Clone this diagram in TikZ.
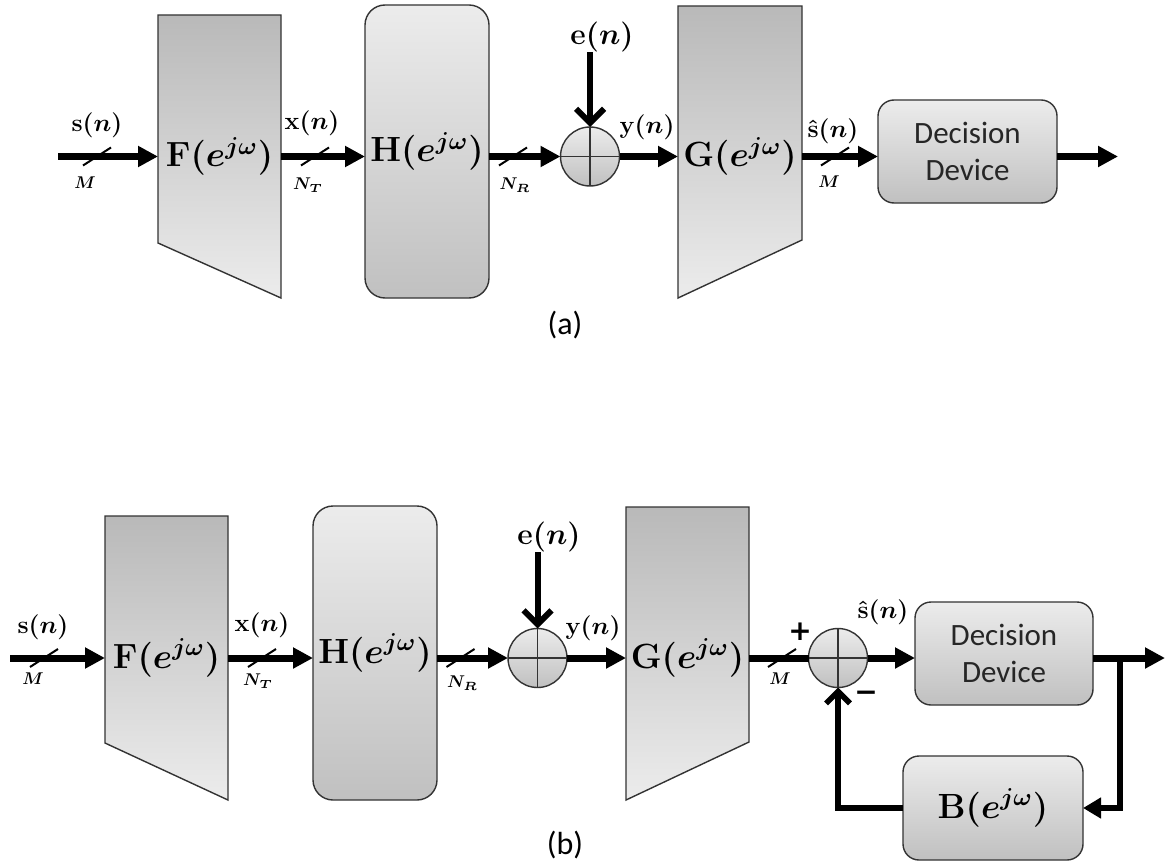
\RequirePackage{fix-cm}
\documentclass[tikz,border=0pt]{standalone}
\usepackage{amsmath,bm}
\usepackage[no-math]{fontspec}
\newfontfamily\ddfont{Carlito}
\newfontfamily\signfont{DejaVu Sans}
\usetikzlibrary{arrows.meta,calc}

\definecolor{edge}{gray}{0.2}
\definecolor{shdark}{HTML}{B9B9B9}
\definecolor{shlight}{HTML}{ECECEC}
\definecolor{boxdark}{HTML}{C0C0C0}

\tikzset{
  x=0.5pt, y=-0.5pt,
  blockfont/.style={font=\fontsize{17.5}{21}\selectfont\boldmath},
  holder/.style={inner sep=0pt, outer sep=0pt},
  trapfill/.style={draw=edge, line width=0.7pt, top color=shdark, bottom color=shlight},
  roundbox/.style={draw=edge, line width=0.7pt, rounded corners=#1,
                   top color=shlight, bottom color=boxdark, inner sep=0pt, outer sep=0pt},
  sumnode/.style={circle, draw=edge, line width=0.7pt, minimum size=29.5pt, inner sep=0pt,
                  outer sep=0pt, top color=shlight, bottom color=boxdark},
  cross/.style={draw=edge, line width=0.6pt},
  sig/.style={line width=3.5pt, -{Triangle[length=10pt,width=10pt]}},
  varrow/.style={line width=3pt, -{Straight Barb[length=7pt,width=14pt]}},
  fbup/.style={line width=2.8pt, -{Straight Barb[length=6pt,width=12pt]}},
  fbleft/.style={line width=2.8pt, -{Triangle[length=9pt,width=10pt]}},
  slash/.style={line width=1pt},
  siglbl/.style={font=\fontsize{12.5}{15}\selectfont\boldmath, inner sep=0pt},
  dimlbl/.style={font=\fontsize{8.5}{10}\selectfont\boldmath, inner sep=0pt},
  elbl/.style={font=\fontsize{15}{18}\selectfont\boldmath, inner sep=0pt},
  ddtext/.style={font=\ddfont\fontsize{15.5}{18.5}\selectfont, text=black!85, align=center},
  signlbl/.style={font=\signfont\bfseries\fontsize{14}{16}\selectfont, inner sep=0pt},
  caplbl/.style={font=\ddfont\fontsize{16}{19}\selectfont, inner sep=0pt},
}

\begin{document}
\begin{tikzpicture}
\useasboundingbox (0,0) rectangle (1170,861);
\fill[white] (0,0) rectangle (1170,861);

% ---------------- (a) open-loop chain ----------------
\node[holder, minimum width=61.5pt, minimum height=141.5pt] (Fa) at (219.5,156.5) {};
\path[trapfill] (Fa.north west) -- (Fa.north east) -- (Fa.south east)
  -- ([yshift=27.5pt]Fa.south west) -- cycle;
\node[blockfont] (Fa-t) at (Fa) {$\mathbf{F}(e^{j\omega})$};

\node[roundbox=10pt, minimum width=62pt, minimum height=146.5pt, blockfont]
  (Ha) at (427,151.5) {$\mathbf{H}(e^{j\omega})$};

\node[sumnode] (suma) at (590,156.5) {};
\draw[cross] (suma.north) -- (suma.south) (suma.west) -- (suma.east);

\node[holder, minimum width=62pt, minimum height=146pt] (Ga) at (740,152) {};
\path[trapfill] (Ga.north west) -- (Ga.north east) -- ([yshift=29pt]Ga.south east)
  -- (Ga.south west) -- cycle;
\node[blockfont] (Ga-t) at (740,156.5) {$\mathbf{G}(e^{j\omega})$};

\node[roundbox=8pt, minimum width=89.5pt, minimum height=51.5pt, ddtext]
  (DDa) at (967.5,151.5) {Decision\\Device};

\coordinate (inA) at (58,156.5);
\coordinate (outA) at (1118,156.5);
\draw[sig] (inA) -- (Fa.west);
\draw[sig] (Fa.east) -- (Fa.east -| Ha.west);
\draw[sig] (suma -| Ha.east) -- (suma.west);
\draw[sig] (suma.east) -- (suma -| Ga.west);
\draw[sig] (suma -| Ga.east) -- (suma -| DDa.west);
\draw[sig] (suma -| DDa.east) -- (outA);

\node[elbl] (eA) at (602,37) {$\mathbf{e}(n)$};
\draw[varrow] (suma |- eA.south) -- (suma.north);

\draw[slash] (97,156.5) ++(-14,9) -- ++(28,-18);
\draw[slash] (315,156.5) ++(-14,9) -- ++(28,-18);
\draw[slash] (513,156.5) ++(-14,9) -- ++(28,-18);
\draw[slash] (835,156.5) ++(-14,9) -- ++(28,-18);

\node[siglbl] (sA) at (97,125) {$\mathbf{s}(n)$};
\node[dimlbl] (MA1) at (85,183) {$\bm{M}$};
\node[siglbl] (xA) at (312,123) {$\mathbf{x}(n)$};
\node[dimlbl] (NTA) at (308,185) {$\bm{N_T}$};
\node[dimlbl] (NRA) at (515,185) {$\bm{N_R}$};
\node[siglbl] (yA) at (647,127) {$\mathbf{y}(n)$};
\node[siglbl] (shA) at (833,131) {$\hat{\mathbf{s}}(n)$};
\node[dimlbl] (MA2) at (829,182) {$\bm{M}$};

\node[caplbl] (capA) at (565,325) {(a)};

% ---------------- (b) chain with decision feedback ----------------
\node[holder, minimum width=61.5pt, minimum height=142pt] (Fb) at (166.5,658) {};
\path[trapfill] (Fb.north west) -- (Fb.north east) -- (Fb.south east)
  -- ([yshift=28.5pt]Fb.south west) -- cycle;
\node[blockfont] (Fb-t) at (Fb) {$\mathbf{F}(e^{j\omega})$};

\node[roundbox=10pt, minimum width=62pt, minimum height=147pt, blockfont]
  (Hb) at (375,653) {$\mathbf{H}(e^{j\omega})$};

\node[sumnode] (sumb1) at (537.5,658) {};
\draw[cross] (sumb1.north) -- (sumb1.south) (sumb1.west) -- (sumb1.east);

\node[holder, minimum width=61.5pt, minimum height=146.5pt] (Gb) at (687.5,653.5) {};
\path[trapfill] (Gb.north west) -- (Gb.north east) -- ([yshift=29pt]Gb.south east)
  -- (Gb.south west) -- cycle;
\node[blockfont] (Gb-t) at (687.5,658) {$\mathbf{G}(e^{j\omega})$};

\node[sumnode] (sumb2) at (838,658) {};
\draw[cross] (sumb2.north) -- (sumb2.south) (sumb2.west) -- (sumb2.east);

\node[roundbox=8pt, minimum width=89pt, minimum height=51.5pt, ddtext]
  (DDb) at (1004,653.5) {Decision\\Device};

\node[roundbox=8pt, minimum width=90pt, minimum height=52pt, blockfont]
  (Bb) at (993,808) {$\mathbf{B}(e^{j\omega})$};

\coordinate (inB) at (10,658);
\coordinate (outB) at (1165,658);
\coordinate (brB) at (1123,658);
\draw[sig] (inB) -- (Fb.west);
\draw[sig] (Fb.east) -- (Fb.east -| Hb.west);
\draw[sig] (sumb1 -| Hb.east) -- (sumb1.west);
\draw[sig] (sumb1.east) -- (sumb1 -| Gb.west);
\draw[line width=3.5pt] (sumb1 -| Gb.east) -- (sumb2.west);
\draw[sig] (sumb2.east) -- (sumb2 -| DDb.west);
\draw[sig] (sumb2 -| DDb.east) -- (outB);
\draw[fbleft] ([xshift=-1.4pt]brB) |- (Bb.east);
\draw[fbup] (Bb.west) -| (sumb2.south);

\node[elbl] (eB) at (549,537) {$\mathbf{e}(n)$};
\draw[varrow] (sumb1 |- eB.south) -- (sumb1.north);

\draw[slash] (44,658) ++(-14,9) -- ++(28,-18);
\draw[slash] (262,658) ++(-14,9) -- ++(28,-18);
\draw[slash] (460.5,658) ++(-14,9) -- ++(28,-18);
\draw[slash] (782,658) ++(-14,9) -- ++(28,-18);

\node[siglbl] (sB) at (43,627) {$\mathbf{s}(n)$};
\node[dimlbl] (MB1) at (33,679) {$\bm{M}$};
\node[siglbl] (xB) at (262,625) {$\mathbf{x}(n)$};
\node[dimlbl] (NTB) at (258,681) {$\bm{N_T}$};
\node[dimlbl] (NRB) at (462.5,683) {$\bm{N_R}$};
\node[siglbl] (yB) at (593,628) {$\mathbf{y}(n)$};
\node[dimlbl] (MB2) at (780,679) {$\bm{M}$};
\node[siglbl] (shB) at (883,612) {$\hat{\mathbf{s}}(n)$};
\node[signlbl] (plusB) at (800,632) {+};
\node[signlbl] (minusB) at (866,696) {−};

\node[caplbl] (capB) at (565,845) {(b)};
\end{tikzpicture}
\end{document}
